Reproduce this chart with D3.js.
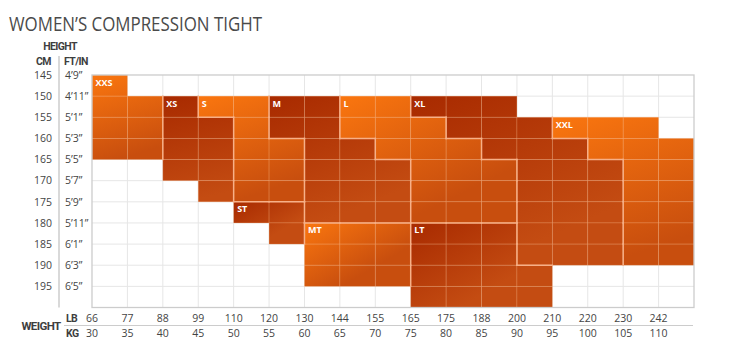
<!DOCTYPE html>
<html>
<head>
<meta charset="utf-8">
<style>
  body { margin: 0; background: #fff; font-family: "Open Sans", Arial, sans-serif; }
  svg { display: block; }
</style>
</head>
<body>
<svg id="chart"></svg>
<script src="https://cdn.jsdelivr.net/npm/d3@7"></script>
<script>
// axis values
var lbTicks = [66, 77, 88, 99, 110, 120, 130, 144, 155, 165, 175, 188, 200, 210, 220, 230, 242];
var kgTicks = [30, 35, 40, 45, 50, 55, 60, 65, 70, 75, 80, 85, 90, 95, 100, 105, 110];
var cmTicks = [145, 150, 155, 160, 165, 170, 175, 180, 185, 190, 195];
var ftTicks = ["4’9”", "4’11”", "5’1”", "5’3”", "5’5”", "5’7”", "5’9”", "5’11”", "6’1”", "6’3”", "6’5”"];

// sizes: each span = [lb column, cm from, cm to]
var sizeNames = ["XXS", "XS", "S", "ST", "M", "MT", "L", "XL", "LT", "XXL"];
var sizeSpans = [
  [[66, 145, 160], [77, 150, 160]],
  [[88, 150, 165], [99, 155, 170]],
  [[99, 150, 150], [110, 150, 170], [120, 160, 170]],
  [[110, 175, 175], [120, 175, 180]],
  [[120, 150, 155], [130, 150, 175], [144, 160, 175], [155, 165, 175]],
  [[130, 180, 190], [144, 180, 190], [155, 180, 190]],
  [[144, 150, 155], [155, 150, 160], [165, 155, 175], [175, 160, 175], [188, 165, 175]],
  [[165, 150, 150], [175, 150, 155], [188, 150, 160], [200, 155, 185], [210, 160, 185], [220, 165, 185]],
  [[165, 180, 195], [175, 180, 195], [188, 180, 195], [200, 190, 195]],
  [[210, 155, 155], [220, 155, 160], [230, 155, 185], [242, 160, 185]]
];
var lightSizes = ["XXS", "S", "MT", "L", "XXL"];

var width = 750, height = 352;
var svg = d3.select("#chart").attr("width", width).attr("height", height);

var x = d3.scaleBand().domain(lbTicks).range([92, 694]);
var y = d3.scaleBand().domain(cmTicks).range([75, 307.5]);
var gx0 = 92, gx1 = 694, gy0 = 75, gy1 = 307.5;

// title
svg.append("text")
  .attr("x", 9).attr("y", 31)
  .attr("textLength", 253).attr("lengthAdjust", "spacingAndGlyphs")
  .attr("font-size", 20).attr("fill", "#4a4a4a")
  .text("WOMEN’S COMPRESSION TIGHT");

// grid background
var grid = svg.append("g");
grid.append("rect").attr("x", gx0).attr("y", gy0).attr("width", gx1 - gx0).attr("height", gy1 - gy0).attr("fill", "#fff");
grid.selectAll(".vl").data(lbTicks.slice(1)).enter().append("line")
  .attr("x1", function(d){ return x(d); }).attr("x2", function(d){ return x(d); })
  .attr("y1", gy0).attr("y2", gy1).attr("stroke", "#e6e6e6").attr("stroke-width", 1);
grid.selectAll(".hl").data(cmTicks.slice(1)).enter().append("line")
  .attr("y1", function(d){ return y(d); }).attr("y2", function(d){ return y(d); })
  .attr("x1", gx0).attr("x2", gx1).attr("stroke", "#e6e6e6").attr("stroke-width", 1);

// cells
var cells = [];
var owner = {};
sizeSpans.forEach(function(spans, si){
  spans.forEach(function(s){
    cmTicks.forEach(function(cm){
      if (cm >= s[1] && cm <= s[2]) {
        cells.push({size: si, lb: s[0], cm: cm});
        owner[s[0] + "_" + cm] = si;
      }
    });
  });
});

var defs = svg.append("defs");
sizeSpans.forEach(function(spans, si){
  var xs = spans.map(function(s){ return x(s[0]); });
  var ys0 = spans.map(function(s){ return y(s[1]); });
  var ys1 = spans.map(function(s){ return y(s[2]) + y.bandwidth(); });
  var bx0 = d3.min(xs), bx1 = d3.max(xs) + x.bandwidth();
  var by0 = d3.min(ys0), by1 = d3.max(ys1);
  var light = lightSizes.indexOf(sizeNames[si]) >= 0;
  var g = defs.append("linearGradient").attr("id", "grad" + si)
    .attr("gradientUnits", "userSpaceOnUse")
    .attr("x1", bx0).attr("y1", by0)
    .attr("x2", bx0 + (bx1 - bx0) * 0.35).attr("y2", by1);
  g.append("stop").attr("offset", 0).attr("stop-color", light ? "#fa760f" : "#a82a00");
  g.append("stop").attr("offset", 1).attr("stop-color", light ? "#c84e0e" : "#c44c12");
});

svg.append("g").selectAll("rect").data(cells).enter().append("rect")
  .attr("x", function(d){ return x(d.lb); })
  .attr("y", function(d){ return y(d.cm); })
  .attr("width", x.bandwidth())
  .attr("height", y.bandwidth())
  .attr("fill", function(d){ return "url(#grad" + d.size + ")"; })
  .attr("stroke", "rgba(255,190,140,0.28)")
  .attr("stroke-width", 0.8);

// borders between sizes
var borders = [];
cells.forEach(function(c){
  var li = lbTicks.indexOf(c.lb), ci = cmTicks.indexOf(c.cm);
  var right = owner[lbTicks[li + 1] + "_" + c.cm];
  if (right !== undefined && right !== c.size) {
    var xr = x(c.lb) + x.bandwidth();
    borders.push([xr, y(c.cm), xr, y(c.cm) + y.bandwidth()]);
  }
  var below = owner[c.lb + "_" + cmTicks[ci + 1]];
  if (below !== undefined && below !== c.size) {
    var yb = y(c.cm) + y.bandwidth();
    borders.push([x(c.lb), yb, x(c.lb) + x.bandwidth(), yb]);
  }
});
svg.append("g").selectAll("line").data(borders).enter().append("line")
  .attr("x1", function(d){ return d[0]; }).attr("y1", function(d){ return d[1]; })
  .attr("x2", function(d){ return d[2]; }).attr("y2", function(d){ return d[3]; })
  .attr("stroke", "#f7b088").attr("stroke-width", 1.5).attr("stroke-linecap", "square");

// size labels
svg.append("g").selectAll("text").data(sizeSpans).enter().append("text")
  .attr("x", function(d){ return x(d[0][0]) + 3.5; })
  .attr("y", function(d){ return y(d[0][1]) + 10.5; })
  .attr("font-size", 9).attr("font-weight", "bold").attr("fill", "#fff")
  .text(function(d, i){ return sizeNames[i]; });

// frame
svg.append("rect").attr("x", gx0).attr("y", gy0).attr("width", gx1 - gx0).attr("height", gy1 - gy0)
  .attr("fill", "none").attr("stroke", "#cccccc").attr("stroke-width", 1.3);

// left axis
svg.append("line").attr("x1", 59).attr("x2", 59).attr("y1", 56).attr("y2", 307.5)
  .attr("stroke", "#cccccc").attr("stroke-width", 1.5);
function head(t, xx, yy, anchor, size) {
  return svg.append("text").attr("x", xx).attr("y", yy).attr("text-anchor", anchor || "start").text(t)
    .attr("font-family", "Roboto, sans-serif").attr("font-weight", "bold")
    .attr("font-size", size || 10.5).attr("fill", "#3e3e3e").attr("letter-spacing", -0.6);
}
head("HEIGHT", 60, 49.5, "middle");
head("CM", 43.5, 64.5, "middle");
head("FT/IN", 64, 64.5);
head("WEIGHT", 41, 329.5, "middle", 11.5);
head("LB", 66, 322);
head("KG", 66, 337);

svg.append("g").selectAll("text").data(cmTicks).enter().append("text")
  .attr("x", 52).attr("y", function(d){ return y(d) + 3.8; })
  .attr("text-anchor", "end").attr("font-size", 10.5).attr("fill", "#444")
  .text(function(d){ return d; });
svg.append("g").selectAll("text").data(ftTicks).enter().append("text")
  .attr("x", 65).attr("y", function(d, i){ return y(cmTicks[i]) + 3.8; })
  .attr("font-size", 10.5).attr("fill", "#444")
  .text(function(d){ return d; });

// bottom axis
svg.append("line").attr("x1", 64).attr("x2", 693).attr("y1", 325.5).attr("y2", 325.5)
  .attr("stroke", "#cccccc").attr("stroke-width", 1);
svg.append("g").selectAll("text").data(lbTicks).enter().append("text")
  .attr("x", function(d){ return x(d); }).attr("y", 321.5)
  .attr("text-anchor", "middle").attr("font-size", 10.5).attr("fill", "#444")
  .text(function(d){ return d; });
svg.append("g").selectAll("text").data(kgTicks).enter().append("text")
  .attr("x", function(d, i){ return x(lbTicks[i]); }).attr("y", 337)
  .attr("text-anchor", "middle").attr("font-size", 10.5).attr("fill", "#444")
  .text(function(d){ return d; });
</script>
</body>
</html>
